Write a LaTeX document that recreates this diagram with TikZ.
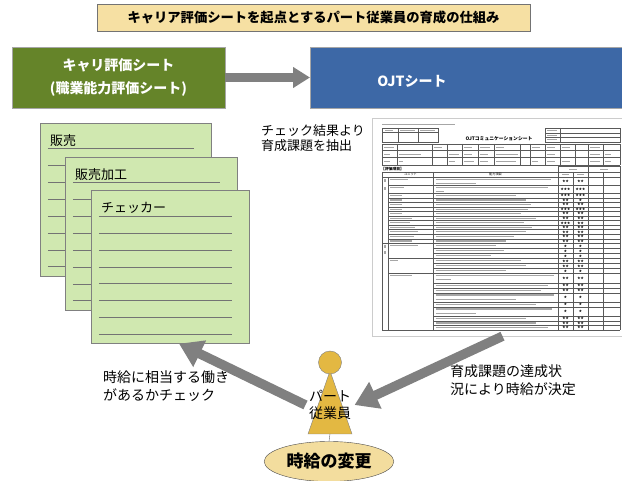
\documentclass[tikz,border=0pt]{standalone}
\usepackage{fontspec}
\setmainfont{Noto Sans CJK JP}
\usepackage{tikz}
\usetikzlibrary{shapes.geometric, arrows.meta, positioning}

\definecolor{titletan}{RGB}{246,224,163}
\definecolor{careergreen}{RGB}{101,132,41}
\definecolor{ojtblue}{RGB}{61,104,166}
\definecolor{sheetgreen}{RGB}{208,232,176}
\definecolor{conegold}{RGB}{227,184,66}
\definecolor{wagetan}{RGB}{243,221,158}
\definecolor{arrowgray}{RGB}{128,128,128}

\tikzstyle{banner} = [rectangle, draw=black!55, fill=titletan, minimum width=433pt, minimum height=27pt, font=\fontsize{13.3}{16}\selectfont\bfseries]
\tikzstyle{careerbox} = [rectangle, draw=black!35, fill=careergreen, text=white, minimum width=213pt, minimum height=61pt, align=center, font=\fontsize{14}{23}\selectfont\bfseries]
\tikzstyle{ojtbox} = [rectangle, draw=black!35, fill=ojtblue, minimum width=330pt, minimum height=61pt, anchor=west]
\tikzstyle{sheet} = [rectangle, draw=black!50, fill=sheetgreen, minimum height=153pt]
\tikzstyle{ruled} = [draw=black!55, line width=0.6pt]
\tikzstyle{note} = [align=left, font=\fontsize{14}{18.5}\selectfont]
\tikzstyle{bararrow} = [line width=9pt, draw=arrowgray, -{Triangle[length=17pt, width=20pt]}]
\tikzstyle{bigarrow} = [line width=9.5pt, draw=arrowgray, -{Triangle[length=23pt, width=28pt]}]
\tikzstyle{cell} = [draw=black!65, line width=0.3pt]
\tikzstyle{txtbar} = [draw=black!35, line width=1.2pt]
\tikzstyle{tiny} = [inner sep=0pt, font=\fontsize{3.2}{3.5}\selectfont]

\newcommand{\starrow}[1]{\ifcase#1\or ★\or ★★\or ★★★\fi}

\begin{document}
\begin{tikzpicture}[x=1pt, y=-1pt]
\useasboundingbox (0,0) rectangle (622,481);
\clip (0,0) rectangle (622,481);

\node (heading) [banner] at (313.5,17.5) {キャリア評価シートを起点とするパート従業員の育成の仕組み};

\node (career) [careerbox] at (118.5,77.5) {キャリ評価シート\\(職業能力評価シート)};
\node (ojtbar) [ojtbox] at (310,77.5) {};
\node (ojtname) [text=white, font=\fontsize{14}{16}\selectfont\bfseries] at (412,81) {OJTシート};
\draw [bararrow] (career.east) -- (ojtbar.west);

% skill sheets, stacked
\foreach \name/\caption/\cx/\cy/\w in {sheet1/販売/125.5/199.5/171, sheet2/販売加工/151/233.5/172, sheet3/チェッカー/170/267/158}{
  \node (\name) [sheet, minimum width=\w pt] at (\cx,\cy) {};
  \node (\name-cap) [anchor=base west, inner sep=0pt, font=\fontsize{13}{15}\selectfont] at ([xshift=10pt, yshift=-22.5pt]\name.north west) {\caption};
  \foreach \k in {0,...,7}
    \draw [ruled] ([xshift=8pt, yshift={-26pt-\k*16.85pt}]\name.north west) -- ([xshift=-17pt, yshift={-26pt-\k*16.85pt}]\name.north east);
}

\node (extract) [align=left, font=\fontsize{13}{14.5}\selectfont] at (313,138) {チェック結果より\\育成課題を抽出};

% OJT communication sheet
\node (ojt) [draw=black!20, minimum width=251pt, minimum height=218pt] at (497.5,227) {};
\draw [txtbar, line width=0.8pt] (382,124.5) -- (455,124.5);
\draw [cell] (382,128) rectangle (438,142);
\draw [cell] (382,132) -- (438,132);
\foreach \x in {398,418} \draw [cell] (\x,128) -- (\x,142);
\foreach \x/\l in {385/8, 400/15, 420/15} \draw [txtbar, line width=0.8pt] (\x,130) -- ++(\l,0);
\node (ojttitle) [inner sep=0pt, font=\fontsize{4.8}{5}\selectfont\bfseries] at (499,139) {OJTコミュニケーションシート};
\draw [cell] (545,128) rectangle (620,142);
\draw [cell] (560,128) -- (560,142);
\foreach \y in {132.7,137.3} \draw [cell] (545,\y) -- (620,\y);
\foreach \y in {130.3,135,139.6} \draw [txtbar, line width=0.8pt] (547,\y) -- ++(10,0);

\foreach \y in {144,150.5,157.5,165} \draw [cell] (382,\y) -- (620,\y);
\foreach \x in {382,397,432,447,462,478,494,520,530,545,560,575,588,603,620} \draw [cell] (\x,144) -- (\x,165);
\foreach \x/\y/\l in {384/147.2/10, 434/147.2/8, 464/147.2/8, 480/147.2/10, 496/147.2/8, 532/147.2/8, 547/147.2/8, 562/147.2/8, 590/147.2/10,
                     384/154/6, 399/154/22, 449/154/10, 464/154/8, 480/154/8, 496/154/22, 547/154/8, 590/154/10, 605/154/6,
                     384/161.2/6, 399/161.2/4, 449/161.2/6, 464/161.2/10, 480/161.2/8, 496/161.2/20, 532/161.2/6, 547/161.2/8, 562/161.2/8, 590/161.2/10, 605/161.2/6}
  \draw [txtbar, line width=0.8pt] (\x,\y) -- ++(\l,0);

\node (ojtitems) [anchor=west, inner sep=0pt, font=\fontsize{3.8}{4}\selectfont\bfseries] at (381,169.3) {【評価項目】};
\draw [cell] (558,166) -- (620,166);
\foreach \x in {558,588,620} \draw [cell] (\x,166) -- (\x,172);
\draw [cell] (382,172) -- (620,172);
\draw [cell] (382,177) -- (620,177);
\foreach \x in {382,433,558,573,588,603,620} \draw [cell] (\x,172) -- (\x,330);
\draw [cell] (388,177) -- (388,330);
\node (unithead) [tiny] at (410.5,174.5) {ユニット};
\node (skillhead) [tiny] at (495.5,174.5) {能力項目};
\foreach \x/\y/\l in {569/169/8, 600/169/8, 562/174.5/7, 577/174.5/7}
  \draw [txtbar, line width=0.8pt] (\x,\y) -- ++(\l,0);
\foreach \y in {179.5,187.5,245.5,251.5}
  \draw [txtbar, line width=2pt] (385,\y) -- ++(0,3);

\foreach \ya/\yb/\sa/\sb/\la/\lb/\lu/\xl [count=\r] in {
    177/185/2/2/115/40/18/388, 185/193.3/3/3/112/8/14/388,
    193.3/197.8/3/3/80/0/12/388, 197.8/202.4/2/1/90/0/12/388,
    202.4/206.9/2/2/95/0/12/388, 206.9/211.5/3/3/92/0/12/388,
    211.5/216/2/2/85/0/12/388, 216/220.5/2/2/100/0/22/388,
    220.5/225.1/3/2/88/0/20/388, 225.1/229.6/2/2/96/0/25/388,
    229.6/234.2/2/2/90/0/28/388, 234.2/238.7/2/2/78/0/24/388,
    238.7/243.3/2/2/70/0/22/382,
    243.3/248.3/1/1/60/0/28/433, 248.3/253.3/1/1/68/0/0/433,
    253.3/258.3/1/1/55/0/0/388, 258.3/263.3/2/2/85/0/8/433,
    263.3/268.3/2/2/90/0/0/433, 268.3/273.3/1/1/70/0/0/388,
    273.3/283.3/2/2/118/15/22/433, 283.3/288/2/2/112/0/0/433,
    288/292.7/2/2/105/0/0/433, 292.7/302/1/1/118/80/0/433,
    302/306.7/1/1/100/0/0/433, 306.7/316/1/1/116/40/0/433,
    316/320.7/2/2/90/0/0/433, 320.7/325.3/2/2/100/0/0/433,
    325.3/330/2/2/112/0/0/382}{
  \draw [cell] (\xl,\yb) -- (620,\yb);
  \node (self\r) [tiny] at (565.5,{(\ya+\yb)/2}) {\starrow{\sa}};
  \node (boss\r) [tiny] at (580.5,{(\ya+\yb)/2}) {\starrow{\sb}};
  \draw [txtbar] (435.5,\ya+2.3) -- ++(\la,0);
  \draw [txtbar] (435.5,\ya+6.6) -- ++(\lb,0);
  \draw [txtbar] (390,\ya+2.3) -- ++(\lu,0);
}

% part-time staff
\draw [draw=black!50, fill=conegold] (330,371) -- (352,434) -- (308,434) -- cycle;
\node (head) [circle, draw=black!50, fill=conegold, minimum size=23pt, inner sep=0pt] at (330,362.5) {};
\node (staff) [align=center, font=\fontsize{14}{17.5}\selectfont] at (330,405) {パート\\従業員};
\coordinate (conebase) at (330,434);
\node (wage) [ellipse, draw=black!70, fill=wagetan, minimum width=108pt, minimum height=40pt, font=\fontsize{17}{20}\selectfont\bfseries] at (329,461.5) {時給の変更};
\draw [black!60] (conebase) -- (wage.north);

\node (check) [note] at (166,386) {時給に相当する働き\\があるかチェック};
\node (decide) [note] at (513,380) {育成課題の達成状\\況により時給が決定};

\draw [bigarrow] (staff.west) -- ([xshift=9pt]sheet3.south);
\draw [bigarrow] ([xshift=5pt]ojt.south) -- (staff.east);
\end{tikzpicture}
\end{document}
